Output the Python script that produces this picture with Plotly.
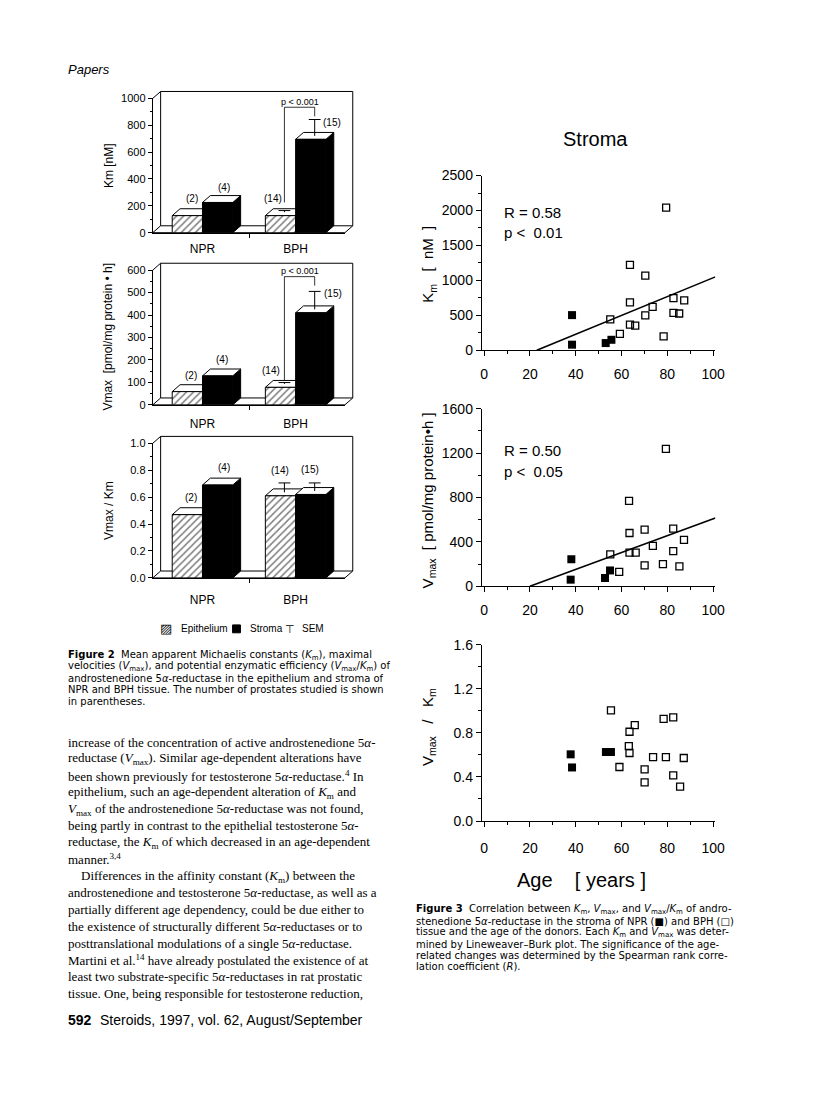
import plotly.graph_objects as go

W, H = 816, 1104
SANS = "Liberation Sans, Arial, Helvetica, sans-serif"
WIDE = "DejaVu Sans, Liberation Sans, sans-serif"
SERIF = "Liberation Serif, Times New Roman, serif"

# ---------------- Figure 2 data (bar charts) ----------------
groups = ["NPR", "BPH"]
group_pos = [1, 2]
n_epi = ["(2)", "(14)"]
n_str = ["(4)", "(15)"]

km_epi = [127, 127]
km_str = [225, 695]
km_epi_sem = [None, 12]
km_str_sem = [None, 122]

vmax_epi = [59, 78]
vmax_str = [129, 410]
vmax_epi_sem = [None, 6]
vmax_str_sem = [None, 80]

eff_epi = [0.47, 0.61]
eff_str = [0.69, 0.62]
eff_epi_sem = [None, 0.07]
eff_str_sem = [None, 0.06]

# ---------------- Figure 3 data (scatter, stroma) ----------------
km_npr_age = [38.4, 38.4, 53.1, 55.6]
km_npr = [503, 80, 103, 150]
km_bph_age = [55.1, 59.3, 63.7, 63.7, 63.7, 66.0, 70.4, 70.4, 73.6, 79.5, 78.4, 82.7, 82.7, 85.2, 87.4]
km_bph = [442, 235, 1222, 686, 367, 352, 1067, 498, 620, 2040, 200, 747, 536, 526, 714]
km_fit_age = [23, 101]
km_fit = [0, 1050]

vmax_npr_age = [38.1, 37.8, 52.8, 55.0]
vmax_npr = [243, 59, 74, 142]
vmax_bph_age = [55.1, 59.0, 63.3, 63.5, 63.5, 66.2, 70.1, 70.1, 73.7, 79.4, 78.1, 82.6, 82.6, 85.3, 87.3]
vmax_bph = [287, 130, 770, 480, 302, 302, 510, 187, 364, 1239, 199, 519, 317, 178, 418]
vmax_fit_age = [20, 101]
vmax_fit = [0, 615]

eff_npr_age = [37.8, 38.4, 53.2, 55.4]
eff_npr = [0.605, 0.486, 0.626, 0.626]
eff_bph_age = [55.4, 59.1, 63.2, 63.5, 63.5, 65.8, 70.1, 70.1, 73.8, 78.4, 79.4, 82.6, 82.6, 85.6, 87.2]
eff_bph = [1.004, 0.49, 0.68, 0.81, 0.617, 0.87, 0.468, 0.35, 0.58, 0.927, 0.58, 0.94, 0.414, 0.313, 0.572]

fig = go.Figure()
shapes = []
annotations = []
layout_axes = {}


def ref(i, kind):
    return kind + ("" if i == 1 else str(i))


def key(i, kind):
    return kind + "axis" + ("" if i == 1 else str(i))


def pp(x, y):
    return f"{x / W:.5f},{1 - y / H:.5f}"


def ann(text, x, y, size, family=SANS, xanchor="center", yanchor="middle", **kw):
    d = dict(text=text, x=x / W, y=1 - y / H, xref="paper", yref="paper",
             showarrow=False, font=dict(size=size, family=family, color="black"),
             xanchor=xanchor, yanchor=yanchor)
    d.update(kw)
    annotations.append(d)


# ---------------- bar panels ----------------
BAR_X = (153, 348)
BAR_XR = (0.466, 2.529)
BAR_W = 0.325
DX, DY = 8, 7

bar_panels = [
    dict(epi=km_epi, stro=km_str, esem=km_epi_sem, ssem=km_str_sem, top=91.7, bot=228.0,
         yr=[0, 1000], dtick=200, minor=100, fmt="", title="Km [nM]", title_y=160, standoff=5,
         shifts=[(4.5, 17), (6, 15), (-7.6, 17), (21.6, 17)], bracket=(225, 934, 866, 976)),
    dict(epi=vmax_epi, stro=vmax_str, esem=vmax_epi_sem, ssem=vmax_str_sem, top=266.0, bot=402.7,
         yr=[0, 600], dtick=100, minor=50, fmt="",
         title="Vmax  [pmol/mg protein \u2022 h]", title_y=333, standoff=8,
         shifts=[(3.5, 16.5), (4, 16.3), (-9.6, 17), (22.6, 19)], bracket=(108, 571, 531, 597)),
    dict(epi=eff_epi, stro=eff_str, esem=eff_epi_sem, ssem=eff_str_sem, top=441.7, bot=578.3,
         yr=[0, 1.0], dtick=0.2, minor=0.1, fmt=".1f", title="Vmax / Km", title_y=510, standoff=11,
         shifts=[(4, 17.3), (6, 17.3), (0, 25.7), (-0.7, 24.5)], bracket=None),
]

for i, p in enumerate(bar_panels, start=1):
    xr_, yr_ = ref(i, "x"), ref(i, "y")
    layout_axes[key(i, "x")] = dict(
        domain=[BAR_X[0] / W, BAR_X[1] / W], range=list(BAR_XR), anchor=yr_,
        showline=True, linecolor="black", linewidth=1, showgrid=False, zeroline=False,
        tickmode="array", tickvals=group_pos, ticktext=groups, ticks="",
        ticklabelstandoff=p["standoff"], tickfont=dict(size=12, family=SANS, color="black"),
        minor=dict(tickmode="array", tickvals=[1.5], ticks="outside", ticklen=4,
                   tickcolor="black", showgrid=False),
        fixedrange=True)
    layout_axes[key(i, "y")] = dict(
        domain=[1 - p["bot"] / H, 1 - p["top"] / H], range=p["yr"], anchor=xr_,
        showline=True, linecolor="black", linewidth=1, showgrid=False, zeroline=False,
        ticks="outside", ticklen=4, tickcolor="black", dtick=p["dtick"], tick0=0,
        tickformat=p["fmt"], tickfont=dict(size=11, family=SANS, color="black"),
        minor=dict(dtick=p["minor"], tick0=0, ticks="outside", ticklen=2, tickcolor="black",
                   showgrid=False),
        fixedrange=True)

    sx = (BAR_X[1] - BAR_X[0]) / (BAR_XR[1] - BAR_XR[0])
    sy = (p["bot"] - p["top"]) / (p["yr"][1] - p["yr"][0])
    dxu, dyu = DX / sx, DY / sy

    # frame: floor and back wall (3-D box)
    x0, x1, top, bot = BAR_X[0], BAR_X[1], p["top"], p["bot"]
    shapes.append(dict(type="path", xref="paper", yref="paper", layer="below",
                       path=f"M{pp(x0, bot)} L{pp(x1, bot)} L{pp(x1 + DX, bot - DY)} L{pp(x0 + DX, bot - DY)} Z",
                       fillcolor="white", line=dict(color="black", width=1)))
    shapes.append(dict(type="path", xref="paper", yref="paper", layer="below",
                       path=f"M{pp(x0 + DX, bot - DY)} L{pp(x0 + DX, top - DY)} L{pp(x1 + DX, top - DY)} L{pp(x1 + DX, bot - DY)}",
                       line=dict(color="black", width=1)))
    shapes.append(dict(type="path", xref="paper", yref="paper", layer="below",
                       path=f"M{pp(x0, top)} L{pp(x0 + DX, top - DY)}",
                       line=dict(color="black", width=1)))

    epi_x = [g - BAR_W / 2 for g in group_pos]
    str_x = [g + BAR_W / 2 for g in group_pos]

    fig.add_trace(go.Bar(
        x=epi_x, y=p["epi"], width=BAR_W, xaxis=xr_, yaxis=yr_, showlegend=False,
        marker=dict(color="white", line=dict(color="black", width=1),
                    pattern=dict(shape="/", fgcolor="black", bgcolor="white", size=5, solidity=0.3))))
    fig.add_trace(go.Bar(
        x=str_x, y=p["stro"], width=BAR_W, xaxis=xr_, yaxis=yr_, showlegend=False,
        marker=dict(color="black", line=dict(color="black", width=1))))

    # 3-D faces (side and top) of every bar, drawn from the bar values
    for xs, vals, side_col in ((epi_x, p["epi"], "white"), (str_x, p["stro"], "black")):
        for c, v in zip(xs, vals):
            a, b = c - BAR_W / 2, c + BAR_W / 2
            shapes.append(dict(type="path", xref=xr_, yref=yr_, layer="below",
                               path=f"M{b},0 L{b},{v} L{b + dxu},{v + dyu} L{b + dxu},{dyu} Z",
                               fillcolor=side_col, line=dict(color="black", width=1)))
            shapes.append(dict(type="path", xref=xr_, yref=yr_, layer="below",
                               path=f"M{a},{v} L{b},{v} L{b + dxu},{v + dyu} L{a + dxu},{v + dyu} Z",
                               fillcolor="white", line=dict(color="black", width=1)))

    # SEM error bars (T shape) standing on the top face
    cw = 6 / sx
    ex, ey = [], []
    for xs, vals, sems in ((epi_x, p["epi"], p["esem"]), (str_x, p["stro"], p["ssem"])):
        for c, v, s in zip(xs, vals, sems):
            if s is None:
                continue
            cx, base = c + dxu / 2, v + dyu / 2
            ex += [cx, cx, None, cx - cw, cx + cw, None]
            ey += [base, base + s, None, base + s, base + s, None]
    fig.add_trace(go.Scatter(x=ex, y=ey, mode="lines", xaxis=xr_, yaxis=yr_, showlegend=False,
                             line=dict(color="black", width=1), hoverinfo="skip"))

    # sample sizes
    labels = [(epi_x[0], p["epi"][0], n_epi[0]), (str_x[0], p["stro"][0], n_str[0]),
              (epi_x[1], p["epi"][1], n_epi[1]), (str_x[1], p["stro"][1], n_str[1])]
    for (c, v, t), (xs_, ys_) in zip(labels, p["shifts"]):
        annotations.append(dict(text=t, x=c, y=v, xref=xr_, yref=yr_, showarrow=False,
                                xshift=xs_, yshift=ys_, xanchor="center", yanchor="middle",
                                font=dict(size=10, family=SANS, color="black")))

    if p["bracket"]:
        lb, bt, rb, ty = p["bracket"]
        lx, rx = epi_x[1] + dxu / 2, str_x[1] + dxu / 2
        shapes.append(dict(type="path", xref=xr_, yref=yr_,
                           path=f"M{lx},{lb} L{lx},{bt} L{rx},{bt} L{rx},{rb}",
                           line=dict(color="black", width=0.8)))
        annotations.append(dict(text="p &lt; 0.001", x=(lx + rx) / 2, y=ty, xref=xr_, yref=yr_,
                                showarrow=False, xanchor="center", yanchor="middle",
                                font=dict(size=9, family=SANS, color="black")))

    ann(p["title"], 108, p["title_y"], 12, textangle=-90)

# legend of figure 2
ann("\u25a8", 166, 630, 13)
ann("Epithelium", 180, 630, 10, xanchor="left")
shapes.append(dict(type="rect", xref="paper", yref="paper",
                   x0=234 / W, x1=242 / W, y0=1 - 634 / H, y1=1 - 626 / H,
                   fillcolor="black", line=dict(color="black", width=1)))
ann("Stroma", 250, 630, 10, xanchor="left")
ann("\u22a4", 292, 630, 11)
ann("SEM", 302, 630, 10, xanchor="left")

# ---------------- scatter panels ----------------
SC_X = (487, 724)
SC_XR = [-1, 101]
sc_panels = [
    dict(npr_x=km_npr_age, npr=km_npr, bph_x=km_bph_age, bph=km_bph, fx=km_fit_age, fy=km_fit,
         top=170.0, bot=347.3, yr=[0, 2500], dtick=500, minor=250, fmt="", standoff=6,
         title="K<sub>m</sub>\u00a0\u00a0\u00a0[\u00a0\u00a0nM\u00a0\u00a0]", title_y=260,
         stats=("R = 0.58", "p &lt;\u00a0\u00a00.01"), stat_y=207),
    dict(npr_x=vmax_npr_age, npr=vmax_npr, bph_x=vmax_bph_age, bph=vmax_bph, fx=vmax_fit_age,
         fy=vmax_fit, top=406.7, bot=586.7, yr=[0, 1600], dtick=400, minor=200, fmt="", standoff=6,
         title="V<sub>max</sub>\u00a0\u00a0[ pmol/mg protein\u2022h ]", title_y=500,
         stats=("R = 0.50", "p &lt;\u00a0\u00a00.05"), stat_y=449),
    dict(npr_x=eff_npr_age, npr=eff_npr, bph_x=eff_bph_age, bph=eff_bph, fx=None, fy=None,
         top=646.0, bot=825.0, yr=[0, 1.6], dtick=0.4, minor=0.2, fmt=".1f", standoff=9,
         title="V<sub>max</sub>\u00a0\u00a0\u00a0/\u00a0\u00a0\u00a0K<sub>m</sub>", title_y=730,
         stats=None, stat_y=None),
]

for j, p in enumerate(sc_panels, start=4):
    xr_, yr_ = ref(j, "x"), ref(j, "y")
    layout_axes[key(j, "x")] = dict(
        domain=[SC_X[0] / W, SC_X[1] / W], range=SC_XR, anchor=yr_,
        showline=True, linecolor="black", linewidth=1.2, showgrid=False, zeroline=False,
        ticks="outside", ticklen=5, tickcolor="black", tick0=0, dtick=20,
        ticklabelstandoff=p["standoff"], tickfont=dict(size=14, family=SANS, color="black"),
        minor=dict(dtick=10, tick0=0, ticks="outside", ticklen=3, tickcolor="black", showgrid=False),
        fixedrange=True)
    layout_axes[key(j, "y")] = dict(
        domain=[1 - p["bot"] / H, 1 - p["top"] / H], range=p["yr"], anchor=xr_,
        showline=True, linecolor="black", linewidth=1.2, showgrid=False, zeroline=False,
        ticks="outside", ticklen=5, tickcolor="black", tick0=0, dtick=p["dtick"],
        tickformat=p["fmt"], tickfont=dict(size=14, family=SANS, color="black"),
        minor=dict(dtick=p["minor"], tick0=0, ticks="outside", ticklen=3, tickcolor="black",
                   showgrid=False),
        fixedrange=True)

    if p["fx"] is not None:
        fig.add_trace(go.Scatter(x=p["fx"], y=p["fy"], mode="lines", xaxis=xr_, yaxis=yr_,
                                 line=dict(color="black", width=1.6), showlegend=False))
    fig.add_trace(go.Scatter(x=p["bph_x"], y=p["bph"], mode="markers", xaxis=xr_, yaxis=yr_,
                             cliponaxis=False, showlegend=False,
                             marker=dict(symbol="square-open", size=7, color="black",
                                         line=dict(color="black", width=1.3))))
    fig.add_trace(go.Scatter(x=p["npr_x"], y=p["npr"], mode="markers", xaxis=xr_, yaxis=yr_,
                             cliponaxis=False, showlegend=False,
                             marker=dict(symbol="square", size=8, color="black",
                                         line=dict(color="black", width=0))))

    ann(p["title"], 433, p["title_y"], 15, textangle=-90)
    if p["stats"]:
        ann(p["stats"][0], 507, p["stat_y"], 15, xanchor="left")
        ann(p["stats"][1], 507, p["stat_y"] + 21, 15, xanchor="left")

ann("Stroma", 602, 133, 20)
ann("Age\u00a0\u00a0\u00a0\u00a0[ years ]", 588, 885, 20)

# ---------------- page text ----------------
ann("<i>Papers</i>", 65, 62, 13, xanchor="left")

cap2 = [
    "<b>Figure 2</b>\u00a0\u00a0Mean apparent Michaelis constants (<i>K</i><sub>m</sub>), maximal",
    "velocities (<i>V</i><sub>max</sub>), and potential enzymatic efficiency (<i>V</i><sub>max</sub>/<i>K</i><sub>m</sub>) of",
    "androstenedione 5<i>\u03b1</i>-reductase in the epithelium and stroma of",
    "NPR and BPH tissue. The number of prostates studied is shown",
    "in parentheses.",
]
for k, t in enumerate(cap2):
    ann(t, 65, 657 + 11.6 * k, 10, family=WIDE, xanchor="left", height=11, valign="middle")

cap3 = [
    "<b>Figure 3</b>\u00a0\u00a0Correlation between <i>K</i><sub>m</sub>, <i>V</i><sub>max</sub>, and <i>V</i><sub>max</sub>/<i>K</i><sub>m</sub> of andro-",
    "stenedione 5<i>\u03b1</i>-reductase in the stroma of NPR (\u25a0) and BPH (\u25a1)",
    "tissue and the age of the donors. Each <i>K</i><sub>m</sub> and <i>V</i><sub>max</sub> was deter-",
    "mined by Lineweaver\u2013Burk plot. The significance of the age-",
    "related changes was determined by the Spearman rank corre-",
    "lation coefficient (<i>R</i>).",
]
for k, t in enumerate(cap3):
    ann(t, 418, 915 + 11.6 * k, 10, family=WIDE, xanchor="left", height=11, valign="middle")

body = [
    "increase of the concentration of active androstenedione 5<i>\u03b1</i>-",
    "reductase (<i>V</i><sub>max</sub>). Similar age-dependent alterations have",
    "been shown previously for testosterone 5<i>\u03b1</i>-reductase.<sup>4</sup> In",
    "epithelium, such an age-dependent alteration of <i>K</i><sub>m</sub> and",
    "<i>V</i><sub>max</sub> of the androstenedione 5<i>\u03b1</i>-reductase was not found,",
    "being partly in contrast to the epithelial testosterone 5<i>\u03b1</i>-",
    "reductase, the <i>K</i><sub>m</sub> of which decreased in an age-dependent",
    "manner.<sup>3,4</sup>",
    "\u00a0\u00a0\u00a0\u00a0Differences in the affinity constant (<i>K</i><sub>m</sub>) between the",
    "androstenedione and testosterone 5<i>\u03b1</i>-reductase, as well as a",
    "partially different age dependency, could be due either to",
    "the existence of structurally different 5<i>\u03b1</i>-reductases or to",
    "posttranslational modulations of a single 5<i>\u03b1</i>-reductase.",
    "Martini et al.<sup>14</sup> have already postulated the existence of at",
    "least two substrate-specific 5<i>\u03b1</i>-reductases in rat prostatic",
    "tissue. One, being responsible for testosterone reduction,",
]
for k, t in enumerate(body):
    ann(t, 65, 745 + 17.0 * k, 13, family=SERIF, xanchor="left")

ann("<b>592</b>", 65, 1027, 14, xanchor="left")
ann("Steroids, 1997, vol. 62, August/September", 97, 1027, 14, xanchor="left")

fig.update_layout(
    width=W, height=H, margin=dict(l=0, r=0, t=0, b=0),
    paper_bgcolor="white", plot_bgcolor="rgba(0,0,0,0)",
    showlegend=False, barmode="overlay",
    font=dict(family=SANS, color="black"),
    shapes=shapes, annotations=annotations,
    **layout_axes,
)

fig.write_html(
    "out.html", config={"displayModeBar": False},
    post_script=("document.body.style.margin='0';"
                 "document.body.style.overflow='hidden';"
                 "document.documentElement.style.overflow='hidden';"))
